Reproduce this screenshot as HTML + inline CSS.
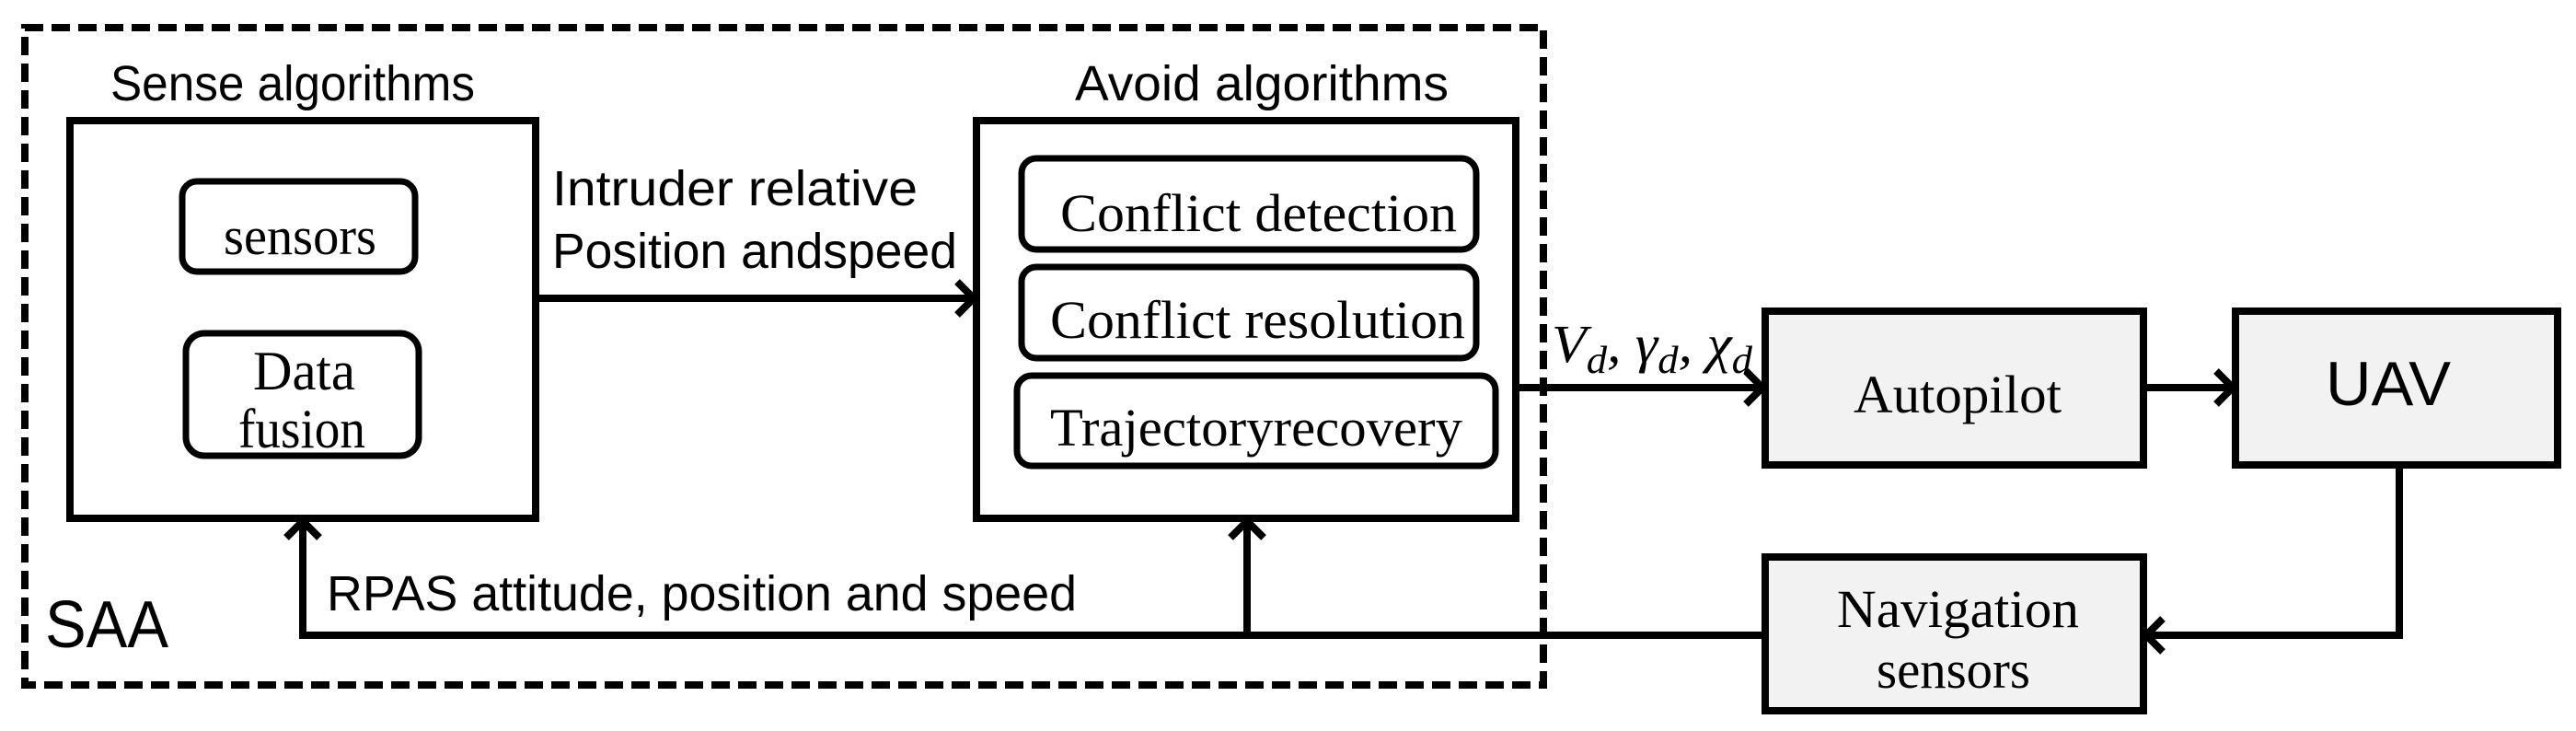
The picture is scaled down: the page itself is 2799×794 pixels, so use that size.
<!DOCTYPE html>
<html><head><meta charset="utf-8"><style>html,body{margin:0;padding:0;background:#fff}svg{display:block}</style></head>
<body>
<svg width="2799" height="794" viewBox="0 0 2799 794" xmlns="http://www.w3.org/2000/svg">
<g fill="none" stroke="#000">
<rect x="27" y="30" width="1650" height="714" stroke-width="8" stroke-dasharray="20,9"/>
<rect x="76" y="131" width="506" height="432" stroke-width="8"/>
<rect x="1061" y="131" width="586" height="432" stroke-width="8"/>
<rect x="198" y="197" width="253" height="98" rx="16" stroke-width="7"/>
<rect x="202" y="362" width="253" height="133" rx="20" stroke-width="7"/>
<rect x="1110" y="172" width="494" height="99" rx="16" stroke-width="7"/>
<rect x="1110" y="290" width="494" height="99" rx="16" stroke-width="7"/>
<rect x="1105" y="408" width="520" height="98" rx="16" stroke-width="7"/>
<rect x="1918" y="338" width="411" height="167" fill="#f2f2f2" stroke-width="8"/>
<rect x="2429" y="338" width="350" height="167" fill="#f2f2f2" stroke-width="8"/>
<rect x="1918" y="605" width="411" height="167" fill="#f2f2f2" stroke-width="8"/>
<g stroke-width="8" stroke-linejoin="miter">
<line x1="582" y1="324" x2="1058" y2="324"/>
<polyline points="1040,306 1058,324 1040,342"/>
<line x1="1647" y1="421" x2="1915" y2="421"/>
<polyline points="1897,403 1915,421 1897,439"/>
<line x1="2329" y1="421" x2="2426" y2="421"/>
<polyline points="2408,403 2426,421 2408,439"/>
<polyline points="2607,505 2607,690 2332,690"/>
<polyline points="2350,672 2332,690 2350,708"/>
<polyline points="1918,690 329,690 329,566"/>
<polyline points="311,584 329,566 347,584"/>
<line x1="1355" y1="690" x2="1355" y2="566"/>
<polyline points="1337,584 1355,566 1373,584"/>
</g>
</g>
<g font-family="Liberation Sans, sans-serif" fill="#000">
<text x="120" y="109" font-size="54" textLength="396" lengthAdjust="spacingAndGlyphs">Sense algorithms</text>
<text x="1168" y="109" font-size="54" textLength="406" lengthAdjust="spacingAndGlyphs">Avoid algorithms</text>
<text x="600" y="223" font-size="54" textLength="397" lengthAdjust="spacingAndGlyphs">Intruder relative</text>
<text x="600" y="291" font-size="54" textLength="440" lengthAdjust="spacingAndGlyphs">Position andspeed</text>
<text x="355" y="663" font-size="54" textLength="815" lengthAdjust="spacingAndGlyphs">RPAS attitude, position and speed</text>
<text x="49" y="703" font-size="72" textLength="134" lengthAdjust="spacingAndGlyphs">SAA</text>
<text x="2527" y="440" font-size="68" textLength="136" lengthAdjust="spacingAndGlyphs">UAV</text>
</g>
<g font-family="Liberation Serif, serif" fill="#000">
<text x="243" y="276" font-size="58" textLength="166" lengthAdjust="spacingAndGlyphs">sensors</text>
<text x="275" y="423" font-size="60" textLength="111" lengthAdjust="spacingAndGlyphs">Data</text>
<text x="259" y="486" font-size="60" textLength="138" lengthAdjust="spacingAndGlyphs">fusion</text>
<text x="1152" y="251" font-size="58" textLength="431" lengthAdjust="spacingAndGlyphs">Conflict detection</text>
<text x="1141" y="367" font-size="58" textLength="451" lengthAdjust="spacingAndGlyphs">Conflict resolution</text>
<text x="1141" y="484" font-size="58" textLength="448" lengthAdjust="spacingAndGlyphs">Trajectoryrecovery</text>
<text x="2014" y="448" font-size="58" textLength="226" lengthAdjust="spacingAndGlyphs">Autopilot</text>
<text x="1996" y="681" font-size="58" textLength="263" lengthAdjust="spacingAndGlyphs">Navigation</text>
<text x="2039" y="747" font-size="58" textLength="167" lengthAdjust="spacingAndGlyphs">sensors</text>
<text x="1686" y="393" font-size="58" font-style="italic" textLength="218" lengthAdjust="spacingAndGlyphs">V<tspan font-size="42" dy="12">d</tspan><tspan dy="-12">, γ</tspan><tspan font-size="42" dy="12">d</tspan><tspan dy="-12">, χ</tspan><tspan font-size="42" dy="12">d</tspan></text>
</g>
</svg>
</body></html>
